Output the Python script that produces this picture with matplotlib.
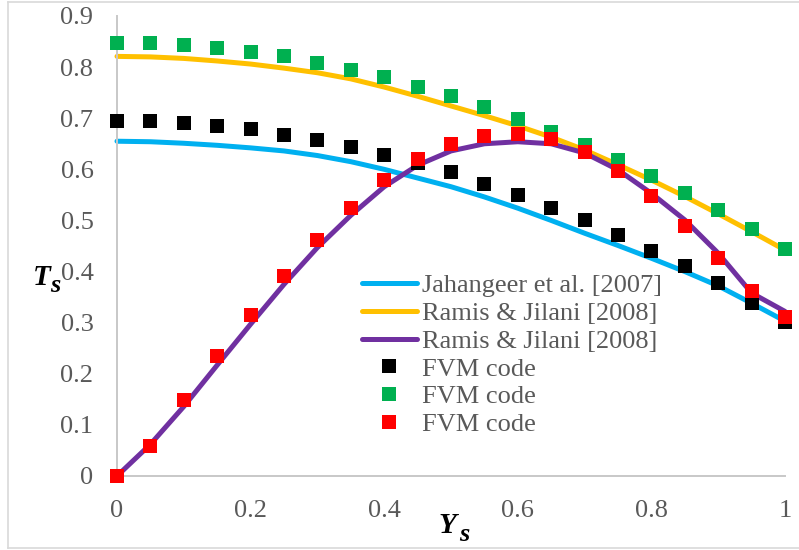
import numpy as np
import matplotlib.pyplot as plt
from matplotlib.lines import Line2D

# dimensionless position along the channel
ys = [0.0, 0.05, 0.1, 0.15, 0.2, 0.25, 0.3, 0.35, 0.4, 0.45, 0.5,
      0.55, 0.6, 0.65, 0.7, 0.75, 0.8, 0.85, 0.9, 0.95, 1.0]

# reference curves
jahangeer = [0.655, 0.654, 0.651, 0.647, 0.642, 0.636, 0.627, 0.615, 0.600, 0.583, 0.566,
             0.546, 0.524, 0.500, 0.475, 0.451, 0.426, 0.400, 0.372, 0.338, 0.303]
ramis_a = [0.821, 0.820, 0.817, 0.812, 0.806, 0.798, 0.789, 0.777, 0.761, 0.743, 0.724,
           0.705, 0.685, 0.663, 0.638, 0.609, 0.579, 0.547, 0.513, 0.478, 0.442]
ramis_b = [0.0, 0.062, 0.136, 0.217, 0.297, 0.375, 0.447, 0.510, 0.566, 0.608, 0.636,
           0.650, 0.654, 0.650, 0.632, 0.599, 0.553, 0.501, 0.436, 0.358, 0.322]

# FVM results
fvm_black = [0.695, 0.695, 0.691, 0.685, 0.678, 0.668, 0.658, 0.644, 0.629, 0.612, 0.594,
             0.572, 0.550, 0.525, 0.500, 0.472, 0.441, 0.410, 0.377, 0.338, 0.302]
fvm_green = [0.848, 0.848, 0.844, 0.838, 0.830, 0.821, 0.808, 0.795, 0.781, 0.762, 0.744,
             0.722, 0.699, 0.674, 0.648, 0.618, 0.587, 0.554, 0.521, 0.483, 0.444]
fvm_red = [0.0, 0.059, 0.149, 0.235, 0.315, 0.391, 0.462, 0.524, 0.579, 0.620, 0.650,
           0.665, 0.669, 0.660, 0.634, 0.597, 0.548, 0.489, 0.427, 0.362, 0.312]

labels = ['Jahangeer et al. [2007]', 'Ramis & Jilani [2008]', 'Ramis & Jilani [2008]',
          'FVM code', 'FVM code', 'FVM code']
yticks = [0, 0.1, 0.2, 0.3, 0.4, 0.5, 0.6, 0.7, 0.8, 0.9]
xticks = [0, 0.2, 0.4, 0.6, 0.8, 1]

W, H = 799, 550
plt.rcParams['font.family'] = ['Liberation Serif', 'DejaVu Serif']

fig = plt.figure(figsize=(W / 100, H / 100), dpi=100)
ax = fig.add_axes([117 / W, 1 - 476 / H, (785 - 117) / W, (476 - 16) / H])

def fx(px):
    return px / W

def fy(py):
    return 1 - py / H

line_colors = ['#00B0F0', '#FFC000', '#7030A0']
for vals, c in zip([jahangeer, ramis_a, ramis_b], line_colors):
    ax.plot(ys, vals, color=c, lw=3.6, solid_capstyle='round', solid_joinstyle='round',
            clip_on=False, zorder=2)

mark_colors = ['#000000', '#00B050', '#FF0000']
for vals, c in zip([fvm_black, fvm_green, fvm_red], mark_colors):
    ax.plot(ys, vals, ls='none', marker='s', ms=10, mew=0, color=c, clip_on=False, zorder=3)

ax.set_xlim(0, 1)
ax.set_ylim(0, 0.9)
ax.set_yticks(yticks)
ax.set_yticklabels(['0' if t == 0 else f'{t:.1f}' for t in yticks])
ax.set_xticks(xticks)
ax.set_xticklabels(['0' if t == 0 else ('1' if t == 1 else f'{t:.1f}') for t in xticks])
ax.tick_params(length=0, labelsize=19, labelcolor='#595959')
ax.tick_params(axis='y', pad=17)
ax.tick_params(axis='x', pad=17)
for s in ['top', 'right']:
    ax.spines[s].set_visible(False)
for s in ['left', 'bottom']:
    ax.spines[s].set_color('#C8C8C8')
    ax.spines[s].set_linewidth(1.4)

handles = [Line2D([], [], color=c, lw=3.6, solid_capstyle='round') for c in line_colors]
handles += [Line2D([], [], ls='none', marker='s', ms=10, mew=0, color=c) for c in mark_colors]
leg = fig.legend(handles, labels, loc='upper left', bbox_to_anchor=(fx(362), fy(274)),
                 frameon=False, fontsize=19, labelcolor='#595959', handlelength=2.08,
                 handletextpad=0.19, labelspacing=0.16, borderpad=0, borderaxespad=0)

# axis titles with subscripts
lab = dict(family='Liberation Serif', style='italic', weight='bold', color='black')
fig.text(fx(33), fy(285), 'T', fontsize=21, va='baseline', **lab)
fig.text(fx(50), fy(292), 's', fontsize=19, va='baseline', **lab)
fig.text(fx(438), fy(533), 'Y', fontsize=21, va='baseline', **lab)
fig.text(fx(459), fy(541), 's', fontsize=19, va='baseline', **lab)

# chart area border
for xs_, ys_ in [([8, 799], [2, 2]), ([8, 8], [2, 548]), ([8, 799], [548, 548])]:
    fig.add_artist(Line2D([fx(v) for v in xs_], [fy(v) for v in ys_], color='#D9D9D9', lw=1.2))

fig.savefig('out.png', dpi=100)
